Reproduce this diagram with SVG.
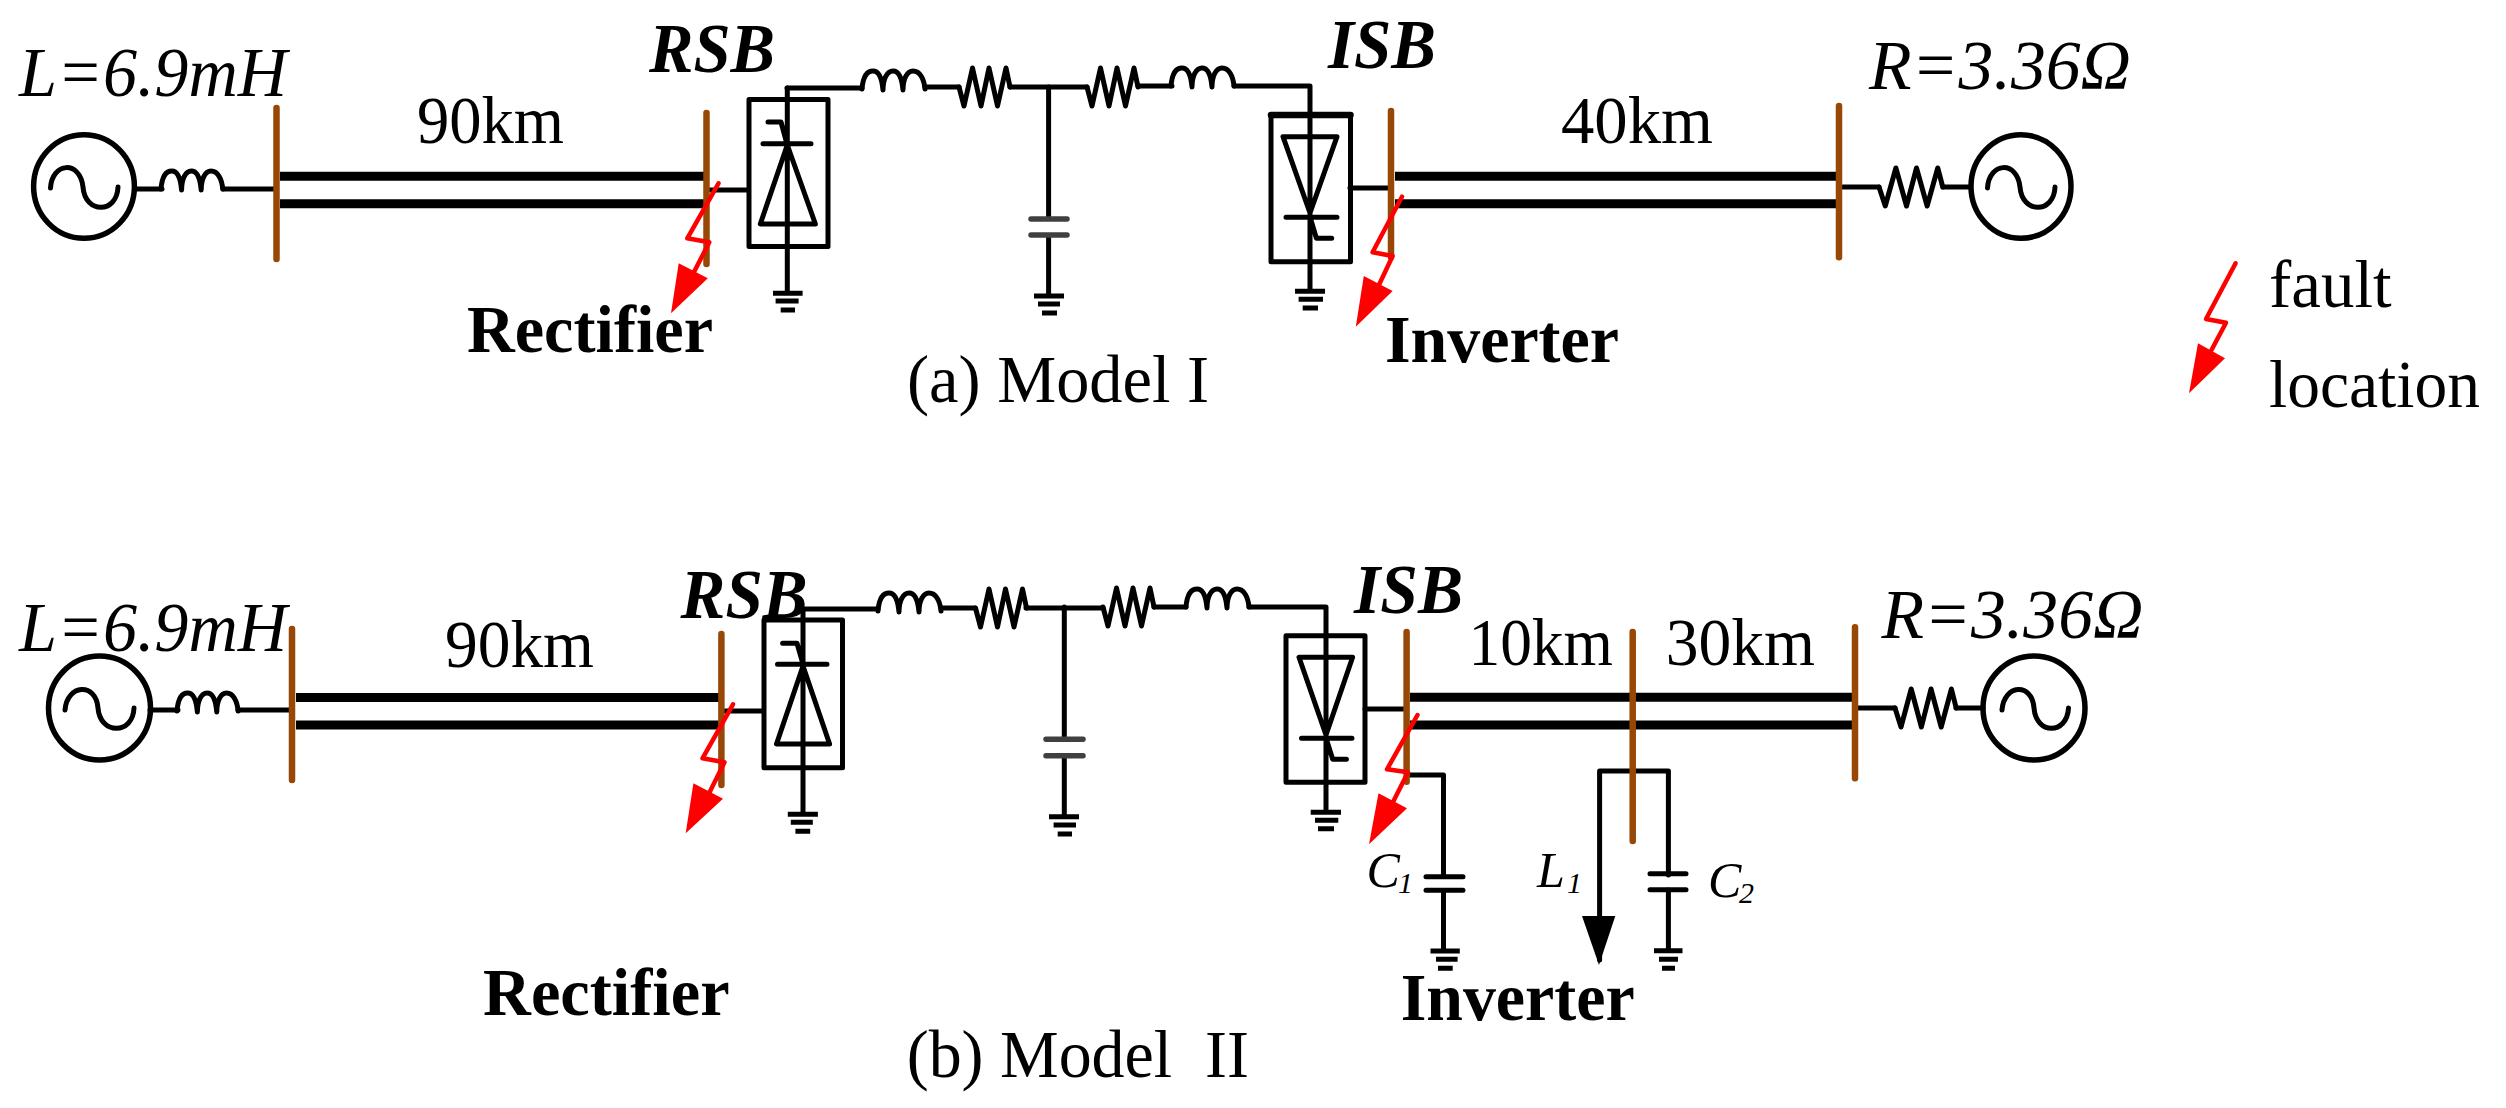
<svg xmlns="http://www.w3.org/2000/svg" width="2506" height="1108" viewBox="0 0 2506 1108">
<style>
text{font-family:"Liberation Serif","Times New Roman",serif;fill:#000}
.t{font-size:68px}
.i{font-size:69px;font-style:italic}
.b{font-size:68px;font-weight:bold}
.bi{font-size:70px;font-weight:bold;font-style:italic}
.s{font-size:50px;font-style:italic}
.u{font-size:30px;font-style:italic}
.w{fill:none;stroke:#000;stroke-width:5;stroke-linejoin:round;stroke-linecap:round}
.e{fill:none;stroke:#000;stroke-width:5.500}
.c{fill:none;stroke:#000;stroke-width:5;stroke-linejoin:round;stroke-linecap:round;vector-effect:non-scaling-stroke}
.g{fill:none;stroke:#000;stroke-width:5}
.l{fill:none;stroke:#000;stroke-width:9}
.bus{fill:none;stroke:#974706;stroke-width:6.500;stroke-linecap:round}
.p{fill:none;stroke:#404040;stroke-width:5.500;stroke-linecap:round}
.p2{fill:none;stroke:#000;stroke-width:5;stroke-linecap:round}
.r{fill:none;stroke:#f00;stroke-width:4.500;stroke-linejoin:round;stroke-linecap:round}
.h{fill:#f00}
</style>
<defs>
<path id="ind" class="c" d="M0 0C1-12 5-18 11-18C17-18 20-10 21 1C21-10 25-18 31-18C37-18 40-10 41 1C41-10 45-18 51-18C58-18 62-10 63 0"/>
<path id="res" class="c" d="M0 0L5 19L13.500-19L22 19L30-19L38.500 19L47-19L51 0"/>
</defs>

<g id="connectors">
<path class="w" d="M135 189H162M223 189H276"/>
<path class="w" d="M710 190H748M787 88H862M925 87H959M1010 87H1087M1138 86H1172M1234 86H1310V115M1350 188H1388M1843 187H1879M1943 187H1970"/>
<path class="w" d="M1048.600 87V217M1048.600 237V294"/>
<path class="l" d="M280 176.300H706M280 203.700H706M1395 176.300H1839M1395 203.700H1839"/>
<path class="w" d="M150 710H178M238 710H292M725 711H763M803 609H878M941 608H975M1026 608H1103M1154 607H1186M1249 607H1326V636M1365 709H1405M1858 708H1895M1956 708H1983"/>
<path class="w" d="M1064.300 607V739M1064.300 756V815"/>
<path class="l" d="M296 697.400H720M296 725H720M1410 697.300H1855M1410 725H1855"/>
<path class="w" d="M1410 775H1443.500V875M1443.500 891V950M1599.600 960V771H1668.400V875M1668.400 890V949"/>
</g>

<g id="source-a1"><ellipse class="e" cx="84" cy="186.500" rx="50.400" ry="51.700"/><path class="w" d="M50.500 188C52 162 80 160 83 187C85 214 117 214 118 187"/></g>
<g id="inductor-a1"><use href="#ind" transform="translate(161,189) scale(.98,1)"/></g>
<g id="bus-a1"><path class="bus" d="M276.500 108V259"/></g>
<g id="bus-a2"><path class="bus" d="M706.500 113V264"/></g>
<g id="rsb-a"><rect class="w" x="749" y="99.500" width="79" height="147"/><path class="w" d="M787.300 88V292M760.300 224H815.400L787.300 145ZM763 143.700H811M787 144L781 122H768"/></g>
<g id="ground-a1"><path class="g" d="M773 293.300H802.600M775.600 301H798.600M780.700 310H795"/></g>
<g id="inductor-a2"><use href="#ind" transform="translate(862,89)"/></g>
<g id="resistor-a1"><use href="#res" transform="translate(959,87)"/></g>
<g id="resistor-a2"><use href="#res" transform="translate(1087,87)"/></g>
<g id="inductor-a3"><use href="#ind" transform="translate(1171,86)"/></g>
<g id="capacitor-a"><path class="p" d="M1031 219H1067M1031 235H1067"/></g>
<g id="ground-a2"><path class="g" d="M1034 296H1064M1038 304H1060M1042 313H1057"/></g>
<g id="isb-a"><rect class="w" x="1271" y="115" width="79.500" height="146.700"/><path class="w" d="M1271 115H1350.500" style="stroke-width:6.500"/><path class="w" d="M1310 115V289M1283 136.700H1337L1310 213ZM1286 217.300H1337M1310 217L1316.400 238.300H1331.700"/></g>
<g id="ground-a3"><path class="g" d="M1295 291.300H1325M1298.600 299.300H1323M1302.700 308H1318"/></g>
<g id="bus-a3"><path class="bus" d="M1391 111V257"/></g>
<g id="bus-a4"><path class="bus" d="M1839 106V257.300"/></g>
<g id="resistor-a3"><use href="#res" transform="translate(1879,187) scale(1.25,1)"/></g>
<g id="source-a2"><ellipse class="e" cx="2021" cy="186.500" rx="50" ry="51.700"/><path class="w" d="M1987.500 188C1989 162 2017 160 2020 187C2022 214 2054 214 2055 187"/></g>
<g id="fault-a1"><path class="r" d="M718.500 183.300L687.300 238.300L709.300 242.300L694 272"/><path class="h" d="M678.700 263.300L707.800 278.300L671 313.300Z"/></g>
<g id="fault-a2"><path class="r" d="M1402 196.700L1372.600 252.300L1392.600 256L1378 287"/><path class="h" d="M1363.800 276L1392.600 291L1355.800 326.700Z"/></g>
<g id="fault-legend"><path class="r" d="M2235.600 263.300L2206 319L2226 322.700L2211.500 350"/><path class="h" d="M2198 343.300L2225 358.300L2189 393.300Z"/></g>

<g id="source-b1"><ellipse class="e" cx="99.500" cy="708" rx="51" ry="52"/><path class="w" d="M65 710C67 684 96 682 98 708C100 735 133 735 134 708"/></g>
<g id="inductor-b1"><use href="#ind" transform="translate(177,711) scale(.97,1)"/></g>
<g id="bus-b1"><path class="bus" d="M292 629V780"/></g>
<g id="bus-b2"><path class="bus" d="M721.400 634V785"/></g>
<g id="rsb-b"><rect class="w" x="764" y="620" width="78.500" height="147.700"/><path class="w" d="M803 609V812M776.500 744H829.600L803 666ZM777.500 664.300H827M803 664L797 643.300H782.600"/></g>
<g id="ground-b1"><path class="g" d="M787.800 814.300H817.900M790.800 822.300H812.800M795.400 831.300H810.200"/></g>
<g id="inductor-b2"><use href="#ind" transform="translate(878,611)"/></g>
<g id="resistor-b1"><use href="#res" transform="translate(975.500,608)"/></g>
<g id="resistor-b2"><use href="#res" transform="translate(1103,607)"/></g>
<g id="inductor-b3"><use href="#ind" transform="translate(1186,607)"/></g>
<g id="capacitor-b"><path class="p" d="M1046 739.300H1083M1046 755.700H1083"/></g>
<g id="ground-b2"><path class="g" d="M1049 816.700H1079M1053.600 825H1076M1057.700 834H1072"/></g>
<g id="isb-b"><rect class="w" x="1286" y="635.700" width="79" height="146.600"/><path class="w" d="M1326 636V811M1299 657.300H1352.600L1326 735ZM1301.500 738.300H1352M1326 738L1332.700 759.300H1346.400"/></g>
<g id="ground-b3"><path class="g" d="M1310.700 812.300H1341M1315 820.300H1338.300M1318 828.700H1334"/></g>
<g id="bus-b3"><path class="bus" d="M1406.600 632V781.700"/></g>
<g id="bus-b4"><path class="bus" d="M1632.700 632V841"/></g>
<g id="bus-b5"><path class="bus" d="M1855 627.300V778.300"/></g>
<g id="resistor-b3"><use href="#res" transform="translate(1895,708) scale(1.2,1)"/></g>
<g id="source-b2"><ellipse class="e" cx="2034" cy="708" rx="51" ry="52"/><path class="w" d="M2002 710C2004 684 2032 682 2034 708C2036 735 2067 735 2068.500 708"/></g>
<g id="capacitor-c1"><path class="p2" d="M1426 876.700H1463M1426 890.300H1463"/></g>
<g id="ground-c1"><path class="g" d="M1430.500 951H1459.800M1436 959.300H1457.600M1438 968.300H1452.700"/></g>
<g id="load-l1"><path d="M1582 916H1615.300L1599 965Z"/></g>
<g id="capacitor-c2"><path class="p2" d="M1650 873.700H1686M1650 889.700H1686"/></g>
<g id="ground-c2"><path class="g" d="M1654 950.700H1682.500M1659 959.300H1678M1662 968.300H1675"/></g>
<g id="fault-b1"><path class="r" d="M733 704.300L702.500 758.300L724.500 762.300L708.700 794"/><path class="h" d="M693.400 783.300L723 798.700L685.700 833.300Z"/></g>
<g id="fault-b2"><path class="r" d="M1417.500 715L1387 769.300L1408 772.300L1392 804"/><path class="h" d="M1378.500 793.300L1407 808.300L1369 844.300Z"/></g>

<g id="labels">
<text class="i" x="19" y="96" textLength="268" lengthAdjust="spacingAndGlyphs">L=6.9mH</text>
<text class="t" x="417" y="143.300" textLength="147" lengthAdjust="spacingAndGlyphs">90km</text>
<text class="bi" x="649" y="71.700" textLength="126" lengthAdjust="spacingAndGlyphs">RSB</text>
<text class="b" x="467" y="351.700" textLength="246" lengthAdjust="spacingAndGlyphs">Rectifier</text>
<text class="bi" x="1328" y="68.300" textLength="108" lengthAdjust="spacingAndGlyphs">ISB</text>
<text class="t" x="1561" y="142.700" textLength="152" lengthAdjust="spacingAndGlyphs">40km</text>
<text class="i" x="1869" y="89" textLength="262" lengthAdjust="spacingAndGlyphs">R=3.36Ω</text>
<text class="b" x="1385" y="361.700" textLength="234" lengthAdjust="spacingAndGlyphs">Inverter</text>
<text class="t" x="907" y="402.300" textLength="302" lengthAdjust="spacingAndGlyphs">(a) Model I</text>
<text class="t" x="2269" y="306.700" textLength="122.600" lengthAdjust="spacingAndGlyphs">fault</text>
<text class="t" x="2269" y="407.300" textLength="211" lengthAdjust="spacingAndGlyphs">location</text>
<text class="i" x="19" y="651" textLength="268" lengthAdjust="spacingAndGlyphs">L=6.9mH</text>
<text class="t" x="445" y="666.600" textLength="149" lengthAdjust="spacingAndGlyphs">90km</text>
<text class="bi" x="680.600" y="617.700" textLength="127" lengthAdjust="spacingAndGlyphs">RSB</text>
<text class="bi" x="1354" y="612.700" textLength="109" lengthAdjust="spacingAndGlyphs">ISB</text>
<text class="t" x="1468.400" y="665" textLength="144.600" lengthAdjust="spacingAndGlyphs">10km</text>
<text class="t" x="1665.700" y="665" textLength="149.300" lengthAdjust="spacingAndGlyphs">30km</text>
<text class="i" x="1881.400" y="637.700" textLength="262" lengthAdjust="spacingAndGlyphs">R=3.36Ω</text>
<text class="b" x="483" y="1015.400" textLength="246.600" lengthAdjust="spacingAndGlyphs">Rectifier</text>
<text class="b" x="1400.700" y="1020" textLength="234" lengthAdjust="spacingAndGlyphs">Inverter</text>
<text class="t" x="906.700" y="1076.700" textLength="342.300" lengthAdjust="spacingAndGlyphs" xml:space="preserve">(b) Model  II</text>
<text class="s" x="1366.500" y="886.700">C</text><text class="u" x="1398" y="893">1</text>
<text class="s" x="1537" y="886.700">L</text><text class="u" x="1567" y="893">1</text>
<text class="s" x="1708" y="897.300">C</text><text class="u" x="1739" y="903.300">2</text>
</g>
</svg>
